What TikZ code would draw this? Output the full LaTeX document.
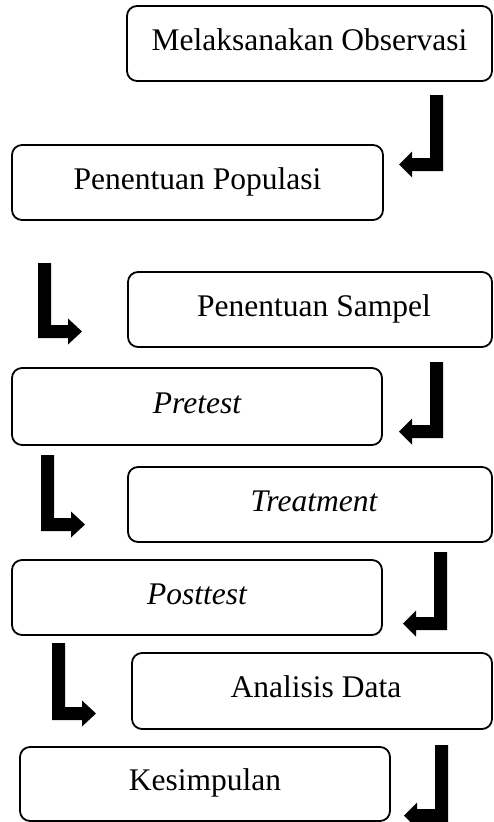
\documentclass[tikz,border=0pt]{standalone}
\usepackage{fontspec}
\setmainfont{Liberation Serif}
\tikzset{
  flowbox/.style={draw=black, line width=1.8pt, rounded corners=10pt, fill=white,
    inner sep=0pt, font=\fontsize{31.5}{36}\selectfont, text height=21pt, text depth=8pt},
  blockarrow/.style={fill=black, draw=none}
}
\newcommand{\txtshiftright}{\hspace*{8pt}}
% down-then-left hook: #1 right x of bar, #2 top y, #3 bottom y
\newcommand{\hookDL}[3]{%
  \fill[blockarrow] (#1,#2) -- (#1,#3) -- ({#1-31},#3) -- ({#1-31},{#3+6.5}) -- ({#1-44},{#3-6.5})
    -- ({#1-31},{#3-19.5}) -- ({#1-31},{#3-13}) -- ({#1-13},{#3-13}) -- ({#1-13},#2) -- cycle;}
% down-then-right hook: #1 left x of bar, #2 top y, #3 bottom y
\newcommand{\hookDR}[3]{%
  \fill[blockarrow] (#1,#2) -- (#1,#3) -- ({#1+30},#3) -- ({#1+30},{#3+6.5}) -- ({#1+44},{#3-6.5})
    -- ({#1+30},{#3-19.5}) -- ({#1+30},{#3-13}) -- ({#1+13},{#3-13}) -- ({#1+13},#2) -- cycle;}
\begin{document}
\begin{tikzpicture}[x=1pt,y=-1pt]
\clip (0,0) rectangle (494,822);
\fill[white] (0,0) rectangle (494,822);

\node[flowbox, minimum width=365pt, minimum height=75pt] (b1) at (309.5,43.5) {Melaksanakan Observasi};
\node[flowbox, minimum width=371pt, minimum height=75pt] (b2) at (197.5,182.5) {Penentuan Populasi};
\node[flowbox, minimum width=364pt, minimum height=75pt] (b3) at (310,309.5) {\txtshiftright Penentuan Sampel};
\node[flowbox, minimum width=370pt, minimum height=77pt] (b4) at (197,406.5) {\itshape Pretest};
\node[flowbox, minimum width=364pt, minimum height=75pt] (b5) at (310,504.5) {\txtshiftright\itshape Treatment};
\node[flowbox, minimum width=370pt, minimum height=75pt] (b6) at (197,597.5) {\itshape Posttest};
\node[flowbox, minimum width=360pt, minimum height=76pt] (b7) at (312,691) {\txtshiftright Analisis Data};
\node[flowbox, minimum width=370pt, minimum height=74pt] (b8) at (205,784) {Kesimpulan};

\hookDL{443}{95}{171}
\hookDR{38}{263}{338}
\hookDL{443}{362}{438}
\hookDR{41}{455}{531}
\hookDL{447}{552}{630}
\hookDR{52}{643}{720}
\hookDL{448}{745}{822}
\end{tikzpicture}
\end{document}
